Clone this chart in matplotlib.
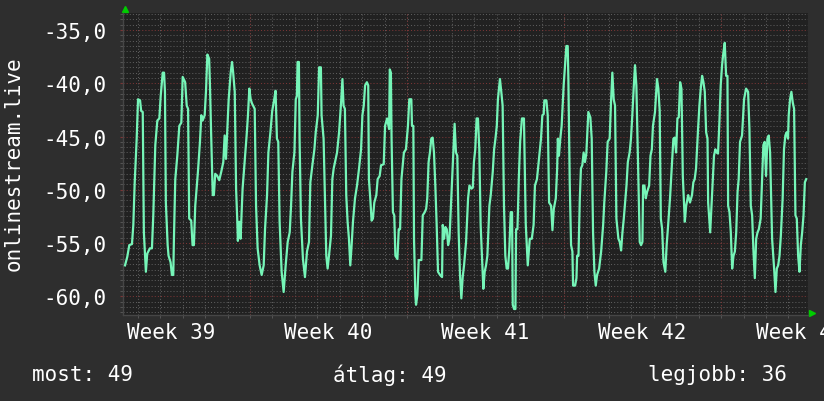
import numpy as np
import matplotlib.pyplot as plt
from matplotlib.ticker import MultipleLocator, FuncFormatter

# time in days since the start of week 39
days_a = [1.43, 1.53, 1.62, 1.74, 1.80, 1.86, 1.95, 2.01, 2.10, 2.15,
          2.22, 2.27, 2.36, 2.42, 2.54, 2.63, 2.69, 2.78, 2.87, 2.96,
          3.02, 3.11, 3.17, 3.21, 3.25, 3.33, 3.37, 3.46, 3.52, 3.58,
          3.61, 3.67, 3.76, 3.85, 3.94, 4.00, 4.11, 4.18, 4.24, 4.29,
          4.38, 4.44, 4.50, 4.56, 4.68, 4.77, 4.83, 4.89, 4.98, 5.04,
          5.10, 5.18, 5.22, 5.27, 5.34, 5.39, 5.45, 5.54, 5.63, 5.72,
          5.81, 5.87, 5.93, 5.99, 6.05, 6.14, 6.20, 6.25, 6.32, 6.38,
          6.43, 6.46, 6.52, 6.58, 6.67, 6.76, 6.85, 6.91, 6.97, 7.03,
          7.09, 7.21, 7.27]
vals_a = [-57.1, -56.3, -55.2, -55.1, -53.3, -49.4, -45.2, -41.5, -41.6, -42.6,
          -42.7, -54.0, -57.7, -56.0, -55.5, -55.5, -52.4, -45.8, -43.5, -43.3,
          -41.2, -39.0, -39.0, -40.8, -51.2, -55.2, -56.2, -56.8, -58.0, -58.0,
          -54.6, -49.0, -46.8, -44.0, -43.7, -39.4, -39.9, -42.1, -42.4, -52.7,
          -52.9, -55.2, -55.2, -51.5, -48.3, -45.5, -43.0, -43.5, -43.0, -40.7,
          -37.3, -37.7, -40.5, -44.9, -50.5, -50.5, -48.5, -48.7, -49.1, -48.3,
          -47.4, -44.9, -47.1, -44.3, -41.5, -39.0, -38.0, -39.0, -40.8, -49.9,
          -52.7, -54.8, -53.0, -54.6, -49.9, -47.4, -44.9, -43.0, -40.5, -41.5,
          -41.9, -42.4, -51.5]

days_b = [7.34, 7.43, 7.52, 7.61, 7.67, 7.76, 7.82, 7.91, 7.99, 8.08,
          8.14, 8.20, 8.26, 8.32, 8.41, 8.50, 8.59, 8.68, 8.77, 8.83,
          8.89, 8.98, 9.04, 9.09, 9.12, 9.18, 9.21, 9.27, 9.36, 9.45,
          9.54, 9.63, 9.69, 9.78, 9.87, 9.93, 10.02, 10.08, 10.16, 10.19,
          10.28, 10.34, 10.40, 10.46, 10.52, 10.61, 10.67, 10.73, 10.79, 10.88,
          10.97, 11.06, 11.12, 11.17, 11.23, 11.29, 11.35, 11.41, 11.47, 11.53,
          11.59, 11.68, 11.77, 11.86, 11.95, 12.01, 12.07, 12.13, 12.21, 12.27,
          12.30, 12.36, 12.42, 12.48, 12.54, 12.63, 12.69, 12.78, 12.84, 12.96,
          13.02, 13.11, 13.20, 13.23, 13.28, 13.31, 13.37, 13.43]
vals_b = [-55.5, -57.1, -58.0, -57.1, -53.7, -50.5, -46.5, -44.6, -42.6, -41.5,
          -40.7, -45.2, -45.5, -53.0, -57.7, -59.6, -57.1, -54.9, -54.0, -51.5,
          -48.3, -46.5, -41.5, -41.2, -38.0, -38.0, -45.2, -52.7, -56.5, -58.2,
          -55.8, -54.9, -49.3, -47.7, -46.2, -44.6, -43.0, -38.5, -38.5, -43.0,
          -45.2, -50.8, -56.2, -57.4, -56.2, -54.3, -49.0, -48.0, -47.4, -46.5,
          -44.6, -41.8, -39.6, -42.1, -42.4, -50.5, -53.0, -54.6, -57.1, -55.2,
          -53.0, -50.8, -49.6, -48.0, -46.2, -43.0, -42.1, -40.2, -39.9, -40.2,
          -49.0, -50.8, -52.9, -52.7, -51.2, -50.5, -49.0, -48.7, -47.7, -47.6,
          -44.0, -43.3, -44.3, -38.7, -39.0, -45.2, -52.1, -52.4]

days_c = [13.48, 13.57, 13.63, 13.69, 13.75, 13.80, 13.86, 13.95, 14.04, 14.10,
          14.19, 14.22, 14.28, 14.31, 14.37, 14.40, 14.46, 14.52, 14.64, 14.70,
          14.79, 14.85, 14.90, 14.96, 15.02, 15.08, 15.14, 15.20, 15.26, 15.32,
          15.38, 15.47, 15.56, 15.59, 15.65, 15.71, 15.77, 15.83, 15.89, 15.97,
          16.06, 16.12, 16.18, 16.24, 16.30, 16.36, 16.42, 16.48, 16.54, 16.63,
          16.72, 16.78, 16.87, 16.93, 16.98, 17.04, 17.10, 17.16, 17.22, 17.28,
          17.34, 17.40, 17.46, 17.52, 17.58, 17.67, 17.73, 17.82, 17.88, 17.94,
          18.00, 18.05, 18.14, 18.20, 18.26, 18.32, 18.38, 18.44, 18.50, 18.56,
          18.62, 18.68, 18.71, 18.77, 18.83, 18.86, 18.92, 18.98, 19.04, 19.12,
          19.21]
vals_c = [-56.2, -56.5, -53.7, -53.7, -49.0, -47.9, -46.5, -46.2, -44.0, -41.5,
          -41.5, -44.0, -44.0, -54.6, -59.9, -60.8, -59.9, -56.6, -56.6, -52.4,
          -52.1, -51.8, -50.8, -47.4, -46.5, -45.2, -45.1, -46.5, -49.6, -53.3,
          -57.7, -58.0, -58.2, -53.3, -54.6, -53.5, -53.7, -55.2, -54.6, -50.8,
          -46.5, -43.8, -46.5, -46.8, -54.0, -58.0, -60.2, -58.2, -57.1, -54.9,
          -50.8, -49.6, -49.9, -49.8, -47.4, -46.2, -43.3, -43.3, -46.2, -53.3,
          -56.2, -59.3, -57.7, -57.1, -56.2, -51.5, -50.5, -48.3, -46.2, -45.2,
          -44.0, -41.5, -39.6, -40.8, -42.1, -51.5, -56.2, -57.4, -57.4, -55.5,
          -52.1, -52.1, -60.8, -61.2, -61.2, -53.7, -53.7, -49.0, -45.5, -43.3,
          -43.3]

days_d = [19.29, 19.38, 19.47, 19.56, 19.64, 19.70, 19.79, 19.85, 19.91, 19.97,
          20.03, 20.09, 20.12, 20.21, 20.27, 20.33, 20.42, 20.48, 20.54, 20.63,
          20.69, 20.72, 20.77, 20.83, 20.89, 20.98, 21.04, 21.10, 21.16, 21.19,
          21.25, 21.31, 21.37, 21.40, 21.49, 21.55, 21.58, 21.64, 21.70, 21.75,
          21.81, 21.87, 21.93, 21.99, 22.08, 22.17, 22.23, 22.29, 22.35, 22.41,
          22.47, 22.56, 22.65, 22.74, 22.79, 22.88, 22.94, 23.03, 23.09, 23.15,
          23.21, 23.27, 23.33, 23.42, 23.48, 23.54, 23.60, 23.66, 23.72, 23.78,
          23.84, 23.92, 23.98, 24.04, 24.10, 24.16, 24.22, 24.31, 24.37, 24.43,
          24.49, 24.52, 24.58, 24.64, 24.70, 24.79, 24.85, 24.91, 24.96, 25.05,
          25.14, 25.20, 25.26]
vals_d = [-53.2, -57.1, -54.6, -54.6, -53.3, -49.6, -49.0, -47.7, -46.5, -45.2,
          -43.0, -42.9, -41.6, -41.6, -43.0, -51.2, -51.5, -53.8, -51.8, -50.8,
          -48.0, -45.2, -46.8, -45.2, -44.0, -40.2, -38.3, -36.5, -36.5, -39.6,
          -49.3, -55.2, -55.8, -59.0, -59.0, -58.3, -56.2, -56.2, -50.8, -48.0,
          -47.7, -46.5, -47.4, -46.6, -42.7, -43.2, -45.2, -54.0, -57.7, -59.0,
          -58.0, -57.4, -55.8, -53.3, -51.2, -48.3, -45.5, -45.2, -41.8, -39.0,
          -41.5, -42.1, -52.7, -54.6, -54.9, -55.7, -54.0, -52.7, -51.2, -49.6,
          -47.4, -46.5, -45.2, -43.0, -40.5, -38.3, -40.2, -49.0, -54.9, -55.2,
          -54.9, -49.6, -49.6, -50.8, -50.2, -49.6, -46.8, -46.2, -44.0, -42.7,
          -39.6, -40.5, -42.6]

days_e = [25.31, 25.37, 25.43, 25.51, 25.57, 25.63, 25.72, 25.81, 25.87, 25.93,
          25.99, 26.05, 26.11, 26.17, 26.23, 26.29, 26.38, 26.44, 26.53, 26.61,
          26.70, 26.76, 26.82, 26.88, 26.97, 27.03, 27.09, 27.15, 27.21, 27.27,
          27.33, 27.39, 27.42, 27.51, 27.57, 27.62, 27.68, 27.74, 27.80, 27.86,
          27.92, 27.98, 28.04, 28.10, 28.16, 28.22, 28.28, 28.31, 28.37, 28.43,
          28.49, 28.55, 28.61, 28.67, 28.73, 28.78, 28.84, 28.93, 29.02, 29.11,
          29.20, 29.26, 29.32, 29.38, 29.44, 29.50, 29.56, 29.62, 29.68, 29.76,
          29.82, 29.88, 29.94, 30.00, 30.06, 30.12, 30.18, 30.27, 30.36, 30.42,
          30.48, 30.54, 30.60, 30.66, 30.74, 30.80, 30.86, 30.92, 30.98, 31.01,
          31.07, 31.13, 31.19, 31.25, 31.31, 31.37, 31.43, 31.49, 31.55, 31.61,
          31.67, 31.73, 31.79]
vals_e = [-52.7, -53.7, -56.8, -57.7, -55.2, -53.5, -50.8, -47.4, -45.2, -45.1,
          -46.5, -43.3, -43.2, -39.9, -40.5, -48.7, -53.0, -51.5, -50.5, -51.2,
          -50.5, -49.3, -49.0, -48.0, -44.3, -42.1, -40.5, -39.3, -39.9, -40.8,
          -44.6, -45.2, -51.2, -54.0, -51.5, -49.3, -46.8, -46.2, -46.5, -46.6,
          -43.7, -40.2, -38.3, -37.1, -36.2, -39.3, -39.3, -51.5, -52.1, -54.0,
          -57.4, -56.2, -55.8, -54.0, -50.2, -49.0, -45.5, -44.9, -41.5, -40.5,
          -40.8, -44.3, -51.5, -52.4, -55.8, -58.3, -54.6, -54.0, -53.7, -52.7,
          -49.3, -45.8, -45.5, -48.7, -45.2, -44.9, -46.5, -54.6, -57.4, -59.6,
          -57.4, -57.1, -56.2, -54.3, -50.8, -46.2, -44.9, -44.6, -45.2, -43.0,
          -41.5, -40.8, -41.8, -42.4, -52.4, -52.7, -56.2, -57.7, -55.2, -54.0,
          -52.4, -49.3, -49.0]

week_numbers = [39, 40, 41, 42, 43]
week_starts = [0, 7, 14, 21, 28]
y_ticks = [-60, -55, -50, -45, -40, -35]
legend_labels = ["most", "átlag", "legjobb"]
legend_values = [49, 49, 36]
source_name = "onlinestream.live"

BG = '#2e2e2e'
PLOT_BG = '#212121'
LINE = '#76f5b8'
MINOR = '#5c5c5c'
MAJOR = '#7a3535'
FONT = 'DejaVu Sans Mono'
FS = 15

days = np.concatenate([days_a, days_b, days_c, days_d, days_e])
signal = np.concatenate([vals_a, vals_b, vals_c, vals_d, vals_e])

fig = plt.figure(figsize=(8.24, 4.02), dpi=100, facecolor=BG)
ax = fig.add_axes([123 / 824, 86 / 402, 685 / 824, 302 / 402])
ax.set_facecolor(PLOT_BG)

ax.set_xlim(1.34, 31.87)
ax.set_ylim(-61.76, -33.4)

# grid: gray dots for days / half units, red dots for weeks / 5 units
ax.xaxis.set_minor_locator(MultipleLocator(1))
ax.yaxis.set_minor_locator(MultipleLocator(0.5))
ax.grid(which='minor', color=MINOR, linestyle=(0, (1, 2)), linewidth=0.75, zorder=1)
ax.set_yticks(y_ticks)
ax.yaxis.grid(True, which='major', color=MAJOR, linestyle=(0, (1, 2)), linewidth=0.75, zorder=1)
for w in week_starts[1:]:
    ax.axvline(w, color=MAJOR, linestyle=(0, (1, 2)), linewidth=0.75, zorder=1)
ax.set_axisbelow(True)

ax.plot(days, signal, color=LINE, linewidth=1.6, zorder=3)

ax.set_xticks([s + 3.5 for s in week_starts])
ax.set_xticklabels([f"Week {n}" for n in week_numbers])
ax.yaxis.set_major_formatter(FuncFormatter(lambda v, p: f"{v:.1f}".replace('.', ',')))

ax.tick_params(axis='x', which='major', length=0, pad=5, labelsize=FS, labelcolor='white')
ax.tick_params(axis='y', which='major', length=2, pad=10, labelsize=FS, labelcolor='white', color=MAJOR)
ax.tick_params(which='minor', length=2, color=MINOR)
for lab in ax.get_xticklabels() + ax.get_yticklabels():
    lab.set_family(FONT)

for side in ['top', 'right']:
    ax.spines[side].set_visible(False)
for side in ['left', 'bottom']:
    ax.spines[side].set_color('#464646')
    ax.spines[side].set_linewidth(1)

# rrdtool style axis arrows
ax.plot([0.003], [1.013], marker='^', color='#00cc00', markersize=5,
        transform=ax.transAxes, clip_on=False)
ax.plot([1.006], [0.007], marker='>', color='#00cc00', markersize=5,
        transform=ax.transAxes, clip_on=False)

fig.text(14 / 824, 1 - 164 / 402, source_name, rotation=90, ha='center', va='center',
         color='white', fontsize=FS, family=FONT)

legend_x = [32 / 824, 333 / 824, 648 / 824]
for x, lab, val in zip(legend_x, legend_labels, legend_values):
    fig.text(x, 1 - 375 / 402, f"{lab}: {val}", ha='left', va='center',
             color='white', fontsize=FS, family=FONT)

fig.savefig('out.png', dpi=100, facecolor=BG)
